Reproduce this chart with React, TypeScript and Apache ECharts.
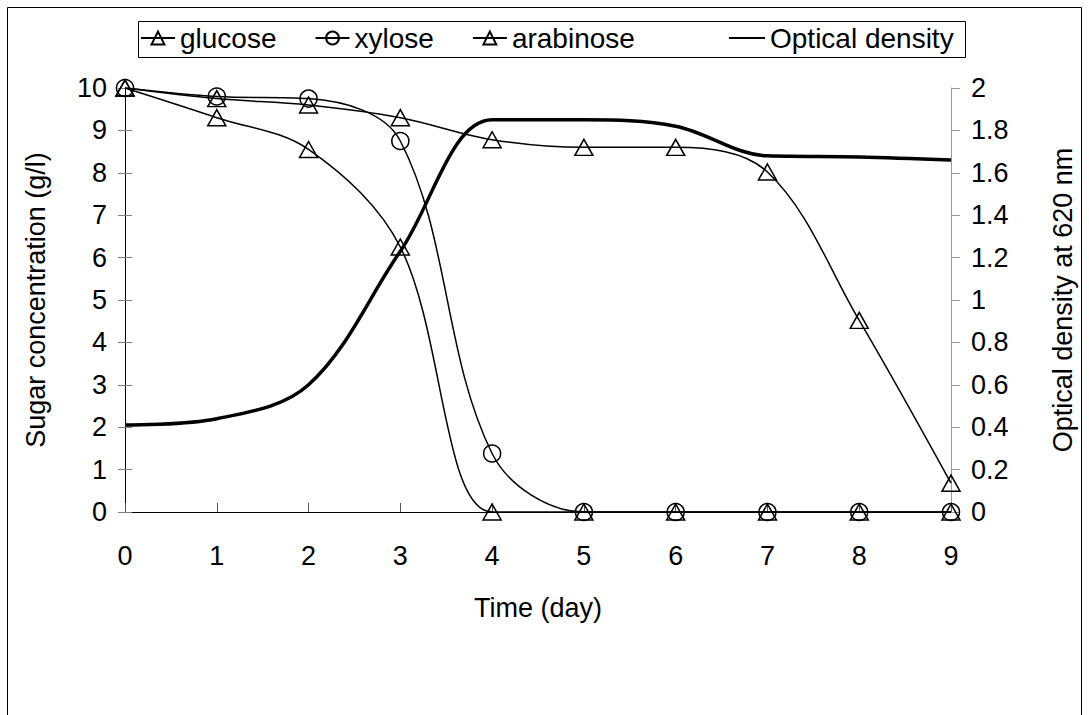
import React, { useEffect, useRef } from "react";
import * as echarts from "echarts";

const days = [0, 1, 2, 3, 4, 5, 6, 7, 8, 9];
const glucose = [10, 9.3, 8.55, 6.25, 0, 0, 0, 0, 0, 0];
const xylose = [10, 9.8, 9.75, 8.75, 1.38, 0, 0, 0, 0, 0];
const arabinose = [10, 9.75, 9.6, 9.3, 8.78, 8.6, 8.6, 8.02, 4.52, 0.68];
const opticalDensity = [0.41, 0.44, 0.6, 1.23, 1.85, 1.85, 1.82, 1.68, 1.675, 1.66];

const FONT = "'Liberation Sans', Arial, sans-serif";

const pairs = (vals: number[]) => days.map((d, i) => [d, vals[i]]);

export default function App() {
  const ref = useRef<HTMLDivElement>(null);
  useEffect(() => {
    document.body.style.margin = "0";
    const chart = echarts.init(ref.current!, null, { renderer: "svg" });
    const lineStyle = { color: "#000", width: 1.5 };
    const markerStyle = { color: "rgba(255,255,255,0)", borderColor: "#000", borderWidth: 1.5 };
    const legendText = { fontFamily: FONT, fontSize: 28, color: "#000" };
    chart.setOption({
      animation: false,
      backgroundColor: "#fff",
      textStyle: { fontFamily: FONT, color: "#000" },
      graphic: [
        {
          type: "rect",
          shape: { x: 7.5, y: 7.5, width: 1074, height: 720 },
          style: { fill: "none", stroke: "#000", lineWidth: 1 },
          silent: true,
        },
        {
          type: "rect",
          shape: { x: 138.5, y: 21.5, width: 827, height: 36 },
          style: { fill: "#fff", stroke: "#000", lineWidth: 1 },
          silent: true,
          z: -1,
        },
      ],
      legend: [
        {
          left: 140,
          top: 24,
          padding: 0,
          itemGap: 38,
          itemWidth: 34,
          itemHeight: 16,
          textStyle: legendText,
          data: ["glucose", "xylose", "arabinose"],
        },
        {
          left: 728,
          top: 24,
          padding: 0,
          itemWidth: 36,
          itemHeight: 16,
          textStyle: legendText,
          data: [{ name: "Optical density", itemStyle: { opacity: 0 } }],
        },
      ],
      grid: { left: 125, right: 138, top: 88, bottom: 203 },
      xAxis: {
        type: "value",
        min: 0,
        max: 9,
        interval: 1,
        name: "Time (day)",
        nameLocation: "middle",
        nameGap: 82,
        nameTextStyle: { fontFamily: FONT, fontSize: 27, color: "#000" },
        axisLine: { show: true, onZero: false, lineStyle: { color: "#000", width: 1 } },
        axisTick: { show: true, inside: true, length: 9, lineStyle: { color: "#555" } },
        axisLabel: { fontFamily: FONT, fontSize: 27, color: "#000", margin: 30 },
        splitLine: { show: false },
      },
      yAxis: [
        {
          type: "value",
          position: "left",
          min: 0,
          max: 10,
          interval: 1,
          name: "Sugar concentration (g/l)",
          nameLocation: "middle",
          nameGap: 76,
          nameTextStyle: { fontFamily: FONT, fontSize: 27, color: "#000" },
          axisLine: { show: true, lineStyle: { color: "#000", width: 1 } },
          axisTick: { show: true, length: 7, lineStyle: { color: "#808080" } },
          axisLabel: { fontFamily: FONT, fontSize: 27, color: "#000", margin: 18 },
          splitLine: { show: false },
        },
        {
          type: "value",
          position: "right",
          min: 0,
          max: 2,
          interval: 0.2,
          name: "Optical density at 620 nm",
          nameLocation: "middle",
          nameGap: 98,
          nameRotate: 90,
          nameTextStyle: { fontFamily: FONT, fontSize: 27, color: "#000" },
          axisLine: { show: true, lineStyle: { color: "#999", width: 1 } },
          axisTick: { show: true, length: 9, lineStyle: { color: "#999" } },
          axisLabel: { fontFamily: FONT, fontSize: 27, color: "#000", margin: 20 },
          splitLine: { show: false },
        },
        {
          type: "value",
          position: "left",
          min: 0,
          max: 10,
          interval: 1,
          axisLine: { show: false },
          axisTick: { show: true, inside: true, length: 7, lineStyle: { color: "#808080" } },
          axisLabel: { show: false },
          splitLine: { show: false },
        },
      ],
      series: [
        {
          name: "glucose",
          type: "line",
          data: pairs(glucose),
          yAxisIndex: 0,
          smooth: 0.35,
          symbol: "triangle",
          symbolSize: [18, 16],
          lineStyle,
          itemStyle: markerStyle,
          clip: true,
        },
        {
          name: "xylose",
          type: "line",
          data: pairs(xylose),
          yAxisIndex: 0,
          smooth: 0.35,
          symbol: "circle",
          symbolSize: 17,
          lineStyle,
          itemStyle: markerStyle,
          clip: true,
        },
        {
          name: "arabinose",
          type: "line",
          data: pairs(arabinose),
          yAxisIndex: 0,
          smooth: 0.35,
          symbol: "triangle",
          symbolSize: [18, 16],
          lineStyle,
          itemStyle: markerStyle,
          clip: true,
        },
        {
          name: "Optical density",
          type: "line",
          data: pairs(opticalDensity),
          yAxisIndex: 1,
          smooth: 0.35,
          symbol: "none",
          lineStyle: { color: "#000", width: 3.5 },
          itemStyle: { color: "#000" },
          clip: true,
        },
      ],
    });
    return () => chart.dispose();
  }, []);
  return <div ref={ref} style={{ width: 1089, height: 715 }} />;
}
